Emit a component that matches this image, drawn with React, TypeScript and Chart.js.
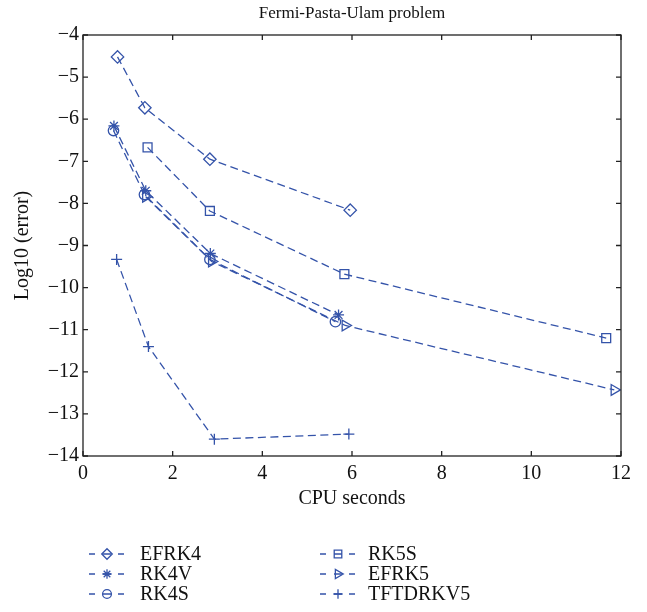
import React, { useEffect, useRef } from 'react';
import { Chart, registerables } from 'chart.js';
import { drawPoint } from 'chart.js/helpers';

Chart.register(...registerables);

// ---- data ----
const seriesNames = ['EFRK4', 'RK4V', 'RK4S', 'RK5S', 'EFRK5', 'TFTDRKV5'];

const efrk4X = [0.77, 1.38, 2.83, 5.96];
const efrk4Y = [-4.52, -5.73, -6.95, -8.16];

const rk4vX = [0.69, 1.40, 2.84, 5.70];
const rk4vY = [-6.16, -7.70, -9.19, -10.65];

const rk4sX = [0.68, 1.37, 2.83, 5.63];
const rk4sY = [-6.27, -7.79, -9.33, -10.81];

const rk5sX = [1.44, 2.83, 5.83, 11.67];
const rk5sY = [-6.67, -8.18, -9.68, -11.20];

const efrk5X = [1.40, 2.87, 5.85, 11.85];
const efrk5Y = [-7.84, -9.38, -10.90, -12.43];

const tftdrkv5X = [0.75, 1.46, 2.93, 5.93];
const tftdrkv5Y = [-9.33, -11.40, -13.60, -13.48];

const xTickValues = [0, 2, 4, 6, 8, 10, 12];
const yTickValues = [-4, -5, -6, -7, -8, -9, -10, -11, -12, -13, -14];

const titleText = 'Fermi-Pasta-Ulam problem';
const xTitle = 'CPU seconds';
const yTitle = 'Log10 (error)';

// ---- styles ----
const BLUE = '#3453a9';
const FONT = '"Liberation Serif", "Times New Roman", serif';
const W = 647;
const H = 612;

type Style = { pointStyle: string; rotation: number; radius: number };
const markerStyles: Style[] = [
  { pointStyle: 'rectRot', rotation: 0, radius: 6.2 },
  { pointStyle: 'star', rotation: 0, radius: 5.5 },
  { pointStyle: 'circle', rotation: 0, radius: 5.2 },
  { pointStyle: 'rect', rotation: 0, radius: 6.3 },
  { pointStyle: 'triangle', rotation: 90, radius: 6.2 },
  { pointStyle: 'cross', rotation: 0, radius: 5.5 },
];

const seriesX = [efrk4X, rk4vX, rk4sX, rk5sX, efrk5X, tftdrkv5X];
const seriesY = [efrk4Y, rk4vY, rk4sY, rk5sY, efrk5Y, tftdrkv5Y];

const decorPlugin = {
  id: 'decor',
  afterDraw(chart: any) {
    const { ctx, chartArea } = chart;
    const { left, right, top, bottom } = chartArea;
    const xs = chart.scales.x;
    const ys = chart.scales.y;
    ctx.save();
    // box
    ctx.strokeStyle = '#222';
    ctx.lineWidth = 1.3;
    ctx.setLineDash([]);
    ctx.strokeRect(left, top, right - left, bottom - top);
    // inward ticks
    const tl = 5;
    ctx.beginPath();
    xTickValues.forEach((v) => {
      const px = xs.getPixelForValue(v);
      ctx.moveTo(px, bottom);
      ctx.lineTo(px, bottom - tl);
      ctx.moveTo(px, top);
      ctx.lineTo(px, top + tl);
    });
    yTickValues.forEach((v) => {
      const py = ys.getPixelForValue(v);
      ctx.moveTo(left, py);
      ctx.lineTo(left + tl, py);
      ctx.moveTo(right, py);
      ctx.lineTo(right - tl, py);
    });
    ctx.stroke();

    // title
    ctx.fillStyle = '#111';
    ctx.textAlign = 'center';
    ctx.textBaseline = 'middle';
    ctx.font = `17px ${FONT}`;
    ctx.fillText(titleText, (left + right) / 2, 14);

    // axis titles
    ctx.font = `20px ${FONT}`;
    ctx.fillText(xTitle, (left + right) / 2, 499);
    ctx.save();
    ctx.translate(23, (top + bottom) / 2);
    ctx.rotate(-Math.PI / 2);
    ctx.fillText(yTitle, 0, 0);
    ctx.restore();

    // legend
    const cols = [
      { cx: 107, tx: 140 },
      { cx: 338, tx: 368 },
    ];
    const rows = [554, 574, 594];
    seriesNames.forEach((name, i) => {
      const col = cols[Math.floor(i / 3)];
      const y = rows[i % 3];
      const cx = col.cx;
      ctx.strokeStyle = BLUE;
      ctx.lineWidth = 1.3;
      ctx.beginPath();
      ctx.moveTo(cx - 18, y);
      ctx.lineTo(cx - 12, y);
      ctx.moveTo(cx - 4, y);
      ctx.lineTo(cx + 4, y);
      ctx.moveTo(cx + 11, y);
      ctx.lineTo(cx + 17, y);
      ctx.stroke();
      const st = markerStyles[i];
      ctx.fillStyle = 'rgba(0,0,0,0)';
      ctx.strokeStyle = BLUE;
      ctx.lineWidth = 1.3;
      drawPoint(ctx, {
        pointStyle: st.pointStyle as any,
        rotation: st.rotation,
        radius: st.radius * 0.85,
        borderWidth: 1.3,
      }, cx, y);
      ctx.fillStyle = '#111';
      ctx.textAlign = 'left';
      ctx.textBaseline = 'middle';
      ctx.font = `20px ${FONT}`;
      ctx.fillText(name, col.tx, y + 1);
    });
    ctx.restore();
  },
};

export default function App() {
  const ref = useRef<HTMLCanvasElement>(null);
  useEffect(() => {
    document.body.style.margin = '0';
    const canvas = ref.current!;
    const datasets = seriesNames.map((name, i) => ({
      label: name,
      data: seriesX[i].map((x, j) => ({ x, y: seriesY[i][j] })),
      borderColor: BLUE,
      backgroundColor: 'rgba(0,0,0,0)',
      borderWidth: 1.3,
      borderDash: [8, 4.5],
      pointStyle: markerStyles[i].pointStyle,
      pointRotation: markerStyles[i].rotation,
      pointRadius: markerStyles[i].radius,
      pointBorderColor: BLUE,
      pointBackgroundColor: 'rgba(0,0,0,0)',
      pointBorderWidth: 1.3,
      fill: false,
      tension: 0,
    }));
    const chart = new Chart(canvas, {
      type: 'line',
      data: { datasets } as any,
      options: {
        responsive: false,
        animation: false,
        devicePixelRatio: 1,
        layout: { padding: { top: 35, right: 26, left: 0, bottom: 98 } },
        plugins: {
          legend: { display: false },
          title: { display: false },
          tooltip: { enabled: false },
        },
        scales: {
          x: {
            type: 'linear',
            min: 0,
            max: 12,
            afterFit: (s: any) => { s.height = 58; },
            afterBuildTicks: (s: any) => { s.ticks = xTickValues.map((v) => ({ value: v })); },
            grid: { display: false, drawTicks: false },
            border: { display: false },
            ticks: {
              color: '#111',
              font: { family: FONT, size: 20 },
              padding: 6,
              maxRotation: 0,
            },
          },
          y: {
            type: 'linear',
            min: -14,
            max: -4,
            afterFit: (s: any) => { s.width = 83; },
            afterBuildTicks: (s: any) => { s.ticks = yTickValues.map((v) => ({ value: v })); },
            grid: { display: false, drawTicks: false },
            border: { display: false },
            ticks: {
              color: '#111',
              font: { family: FONT, size: 20 },
              padding: 4,
              callback: (v: any) => (Number(v) < 0 ? '\u2212' + Math.abs(Number(v)) : String(v)),
            },
          },
        },
      } as any,
      plugins: [decorPlugin],
    });
    return () => chart.destroy();
  }, []);
  return <canvas ref={ref} width={W} height={H} style={{ display: 'block' }} />;
}
